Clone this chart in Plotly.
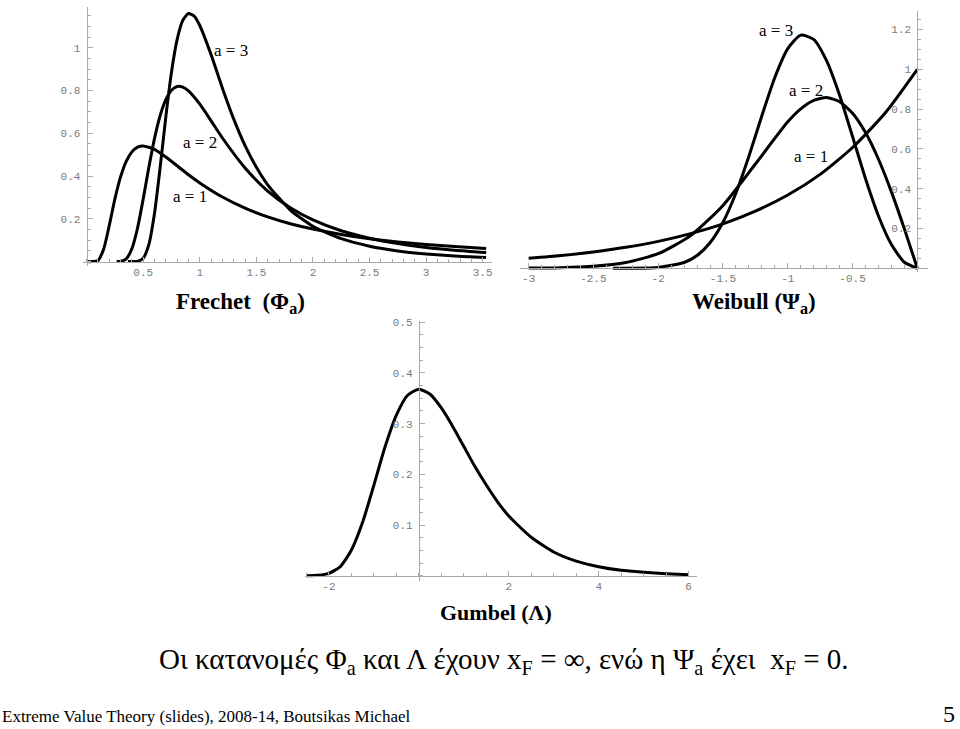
import plotly.graph_objects as go

W, H = 960, 729

# ---------------- data ----------------
fre_x1 = [0, 0.05, 0.1, 0.15, 0.2, 0.25, 0.3, 0.35, 0.4, 0.45, 0.5, 0.6, 0.7, 0.8, 0.9, 1.0, 1.2, 1.4, 1.6, 1.8, 2.0, 2.25, 2.5, 2.75, 3.0, 3.25, 3.53]
fre_y1 = [0, 0, 0.005, 0.057, 0.168, 0.293, 0.396, 0.469, 0.513, 0.535, 0.541, 0.525, 0.489, 0.448, 0.406, 0.368, 0.302, 0.250, 0.209, 0.177, 0.152, 0.127, 0.107, 0.092, 0.080, 0.070, 0.061]
fre_x2 = [0.265, 0.3, 0.35, 0.4, 0.45, 0.5, 0.55, 0.6, 0.65, 0.7, 0.75, 0.8, 0.85, 0.9, 1.0, 1.1, 1.2, 1.4, 1.6, 1.8, 2.0, 2.25, 2.5, 2.75, 3.0, 3.25, 3.53]
fre_y2 = [0, 0.001, 0.013, 0.060, 0.157, 0.293, 0.441, 0.576, 0.683, 0.757, 0.801, 0.819, 0.816, 0.798, 0.736, 0.658, 0.578, 0.438, 0.330, 0.252, 0.195, 0.144, 0.109, 0.084, 0.066, 0.053, 0.042]
fre_x3 = [0.365, 0.4, 0.45, 0.5, 0.55, 0.6, 0.65, 0.7, 0.75, 0.8, 0.85, 0.9, 0.95, 1.0, 1.1, 1.2, 1.3, 1.4, 1.5, 1.6, 1.8, 2.0, 2.25, 2.5, 2.75, 3.0, 3.25, 3.53]
fre_y3 = [0, 0, 0.001, 0.016, 0.080, 0.226, 0.441, 0.677, 0.886, 1.039, 1.128, 1.160, 1.148, 1.104, 0.967, 0.811, 0.666, 0.542, 0.441, 0.359, 0.241, 0.165, 0.107, 0.072, 0.050, 0.036, 0.026, 0.019]

wei_x1 = [-3, -2.75, -2.5, -2.25, -2, -1.75, -1.5, -1.25, -1, -0.75, -0.5, -0.25, 0]
wei_y1 = [0.050, 0.064, 0.082, 0.105, 0.135, 0.174, 0.223, 0.287, 0.368, 0.472, 0.607, 0.779, 1.0]
wei_x2 = [-3, -2.75, -2.5, -2.25, -2, -1.75, -1.5, -1.25, -1, -0.9, -0.8, -0.7, -0.6, -0.5, -0.4, -0.3, -0.2, -0.1, 0]
wei_y2 = [0.001, 0.003, 0.010, 0.029, 0.073, 0.164, 0.316, 0.524, 0.736, 0.801, 0.844, 0.858, 0.837, 0.779, 0.682, 0.548, 0.384, 0.198, 0]
wei_x3 = [-2.35, -2.2, -2.0, -1.8, -1.7, -1.6, -1.5, -1.4, -1.3, -1.2, -1.1, -1.0, -0.9, -0.8, -0.7, -0.6, -0.5, -0.4, -0.3, -0.2, -0.1, 0]
wei_y3 = [0, 0, 0.004, 0.029, 0.064, 0.128, 0.231, 0.378, 0.563, 0.767, 0.959, 1.104, 1.172, 1.151, 1.043, 0.870, 0.662, 0.450, 0.263, 0.119, 0.030, 0]

gum_x = [-2.5, -2.25, -2, -1.75, -1.5, -1.25, -1, -0.75, -0.5, -0.25, 0, 0.25, 0.5, 0.75, 1, 1.25, 1.5, 1.75, 2, 2.5, 3, 3.5, 4, 4.5, 5, 5.5, 6]
gum_y = [0, 0.001, 0.005, 0.018, 0.051, 0.106, 0.179, 0.255, 0.317, 0.356, 0.368, 0.358, 0.331, 0.295, 0.255, 0.215, 0.179, 0.146, 0.118, 0.076, 0.047, 0.029, 0.018, 0.011, 0.007, 0.004, 0.002]

fre_xticks = [0.5, 1, 1.5, 2, 2.5, 3, 3.5]
fre_xticklabels = ["0.5", "1", "1.5", "2", "2.5", "3", "3.5"]
fre_yticks = [0.2, 0.4, 0.6, 0.8, 1]
fre_yticklabels = ["0.2", "0.4", "0.6", "0.8", "1"]
wei_xticks = [-3, -2.5, -2, -1.5, -1, -0.5]
wei_xticklabels = ["-3", "-2.5", "-2", "-1.5", "-1", "-0.5"]
wei_yticks = [0.2, 0.4, 0.6, 0.8, 1, 1.2]
wei_yticklabels = ["0.2", "0.4", "0.6", "0.8", "1", "1.2"]
gum_xticks = [-2, 2, 4, 6]
gum_xticklabels = ["-2", "2", "4", "6"]
gum_yticks = [0.1, 0.2, 0.3, 0.4, 0.5]
gum_yticklabels = ["0.1", "0.2", "0.3", "0.4", "0.5"]

# ---------------- layout helpers ----------------
def xdom(x0px, scale, rng):
    return [(x0px + rng[0] * scale) / W, (x0px + rng[1] * scale) / W]

def ydom(y0px, scale, rng):
    return [1 - (y0px - rng[0] * scale) / H, 1 - (y0px - rng[1] * scale) / H]

TICKFONT = dict(family="Liberation Mono, Courier New, monospace", size=11, color="#7a7a7a")
AXC = "#a8a8a8"

def xax(rng, dom, ypos, tv, tt, minor):
    return dict(range=rng, domain=dom, anchor="free", position=ypos, showgrid=False,
                zeroline=False, showline=True, linecolor=AXC, linewidth=1,
                tickmode="array", tickvals=tv, ticktext=tt, ticks="inside", ticklen=5,
                tickcolor=AXC, tickfont=TICKFONT,
                minor=dict(dtick=minor, ticks="inside", ticklen=3, tickcolor=AXC, showgrid=False))

def yax(rng, dom, xpos, tv, tt, minor):
    return dict(range=rng, domain=dom, anchor="free", position=xpos, side="left", showgrid=False,
                zeroline=False, showline=True, linecolor=AXC, linewidth=1,
                tickmode="array", tickvals=tv, ticktext=tt, ticks="inside", ticklen=5,
                tickcolor=AXC, tickfont=TICKFONT, ticklabelstandoff=4,
                minor=dict(dtick=minor, ticks="inside", ticklen=3, tickcolor=AXC, showgrid=False))

fig = go.Figure()
line = dict(color="black", width=3, shape="spline", smoothing=0.6)
for xs, ys in [(fre_x1, fre_y1), (fre_x2, fre_y2), (fre_x3, fre_y3)]:
    fig.add_trace(go.Scatter(x=xs, y=ys, mode="lines", line=line, xaxis="x", yaxis="y"))
for xs, ys in [(wei_x1, wei_y1), (wei_x2, wei_y2), (wei_x3, wei_y3)]:
    fig.add_trace(go.Scatter(x=xs, y=ys, mode="lines", line=line, xaxis="x2", yaxis="y2"))
fig.add_trace(go.Scatter(x=gum_x, y=gum_y, mode="lines", line=line, xaxis="x3", yaxis="y3"))

# Frechet: x=0 at px 86.7, 113.3 px/unit ; y=0 at px 259, 215 px/unit
fr_xr, fr_yr = [-0.03, 3.58], [-0.02, 1.19]
# Weibull: x=0 at px 918.3, 129.7 px/unit ; y=0 at px 265.7, 200 px/unit
we_xr, we_yr = [-3.07, 0.08], [-0.02, 1.295]
# Gumbel: x=0 at px 419.3, 45 px/unit ; y=0 at px 575, 510 px/unit
gu_xr, gu_yr = [-2.54, 6.18], [-0.01, 0.502]

fig.update_layout(
    width=W, height=H, margin=dict(l=0, r=0, t=0, b=0),
    paper_bgcolor="white", plot_bgcolor="white", showlegend=False,
    xaxis=xax(fr_xr, xdom(86.7, 113.3, fr_xr), 1 - 259 / H, fre_xticks, fre_xticklabels, 0.1),
    yaxis=yax(fr_yr, ydom(259, 215, fr_yr), 86.7 / W, fre_yticks, fre_yticklabels, 0.05),
    xaxis2=xax(we_xr, xdom(918.3, 129.7, we_xr), 1 - 265.7 / H, wei_xticks, wei_xticklabels, 0.1),
    yaxis2=yax(we_yr, ydom(265.7, 200, we_yr), 918.3 / W, wei_yticks, wei_yticklabels, 0.05),
    xaxis3=xax(gu_xr, xdom(419.3, 45, gu_xr), 1 - 575 / H, gum_xticks, gum_xticklabels, 0.5),
    yaxis3=yax(gu_yr, ydom(575, 510, gu_yr), 419.3 / W, gum_yticks, gum_yticklabels, 0.025),
)

SERIF = "Liberation Serif"
GREEK_SERIF = "Liberation Serif, DejaVu Serif, serif"

def txt(s, px, py, size, xanchor="center", family=SERIF):
    fig.add_annotation(text=s, x=px / W, y=1 - py / H, xref="paper", yref="paper",
                       showarrow=False, xanchor=xanchor, yanchor="middle",
                       font=dict(family=family, size=size, color="black"))

# curve labels
txt("a = 3", 231, 47, 17)
txt("a = 2", 200, 139, 17)
txt("a = 1", 190, 194, 17)
txt("a = 3", 777, 27, 17)
txt("a = 2", 807, 87, 17)
txt("a = 1", 812, 153, 17)

# titles
txt("<b>Frechet  (Φ<sub>a</sub>)</b>", 241, 301, 23)
txt("<b>Weibull (Ψ<sub>a</sub>)</b>", 755, 301, 23)
txt("<b>Gumbel (Λ)</b>", 497, 612, 22)

txt("Οι κατανομές Φ<sub>a</sub> και Λ έχουν x<sub>F</sub> = ∞, ενώ η Ψ<sub>a</sub> έχει  x<sub>F</sub> = 0.",
    505, 661, 29, family=GREEK_SERIF)
txt("Extreme Value Theory (slides), 2008-14, Boutsikas Michael", 0, 716, 17, xanchor="left")
txt("5", 950, 714, 24)

fig.write_html("out.html")
